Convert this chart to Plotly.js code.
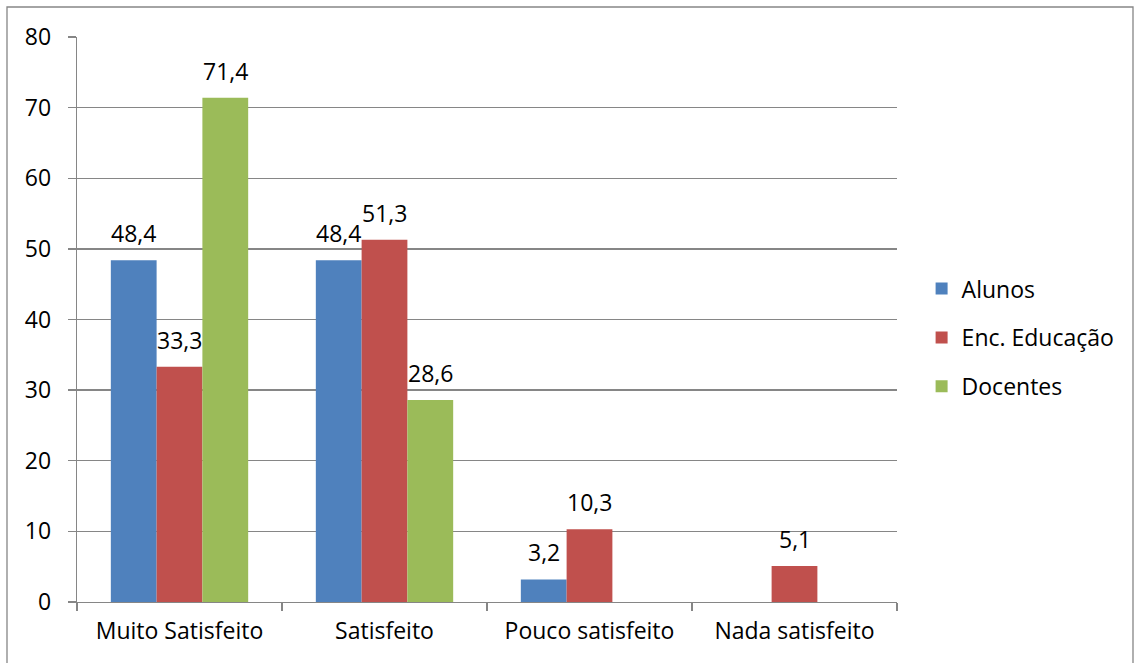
<!DOCTYPE html>
<html>
<head>
<meta charset="utf-8">
<script src="https://cdn.plot.ly/plotly-3.0.1.min.js"></script>
<style>html,body{margin:0;padding:0;background:#fff;}#chart{width:1134px;height:663px;}</style>
</head>
<body>
<div id="chart"></div>
<script>
const categories = ["Muito Satisfeito", "Satisfeito", "Pouco satisfeito", "Nada satisfeito"];
const alunos = [48.4, 48.4, 3.2, null];
const encEducacao = [33.3, 51.3, 10.3, 5.1];
const docentes = [71.4, 28.6, null, null];
const seriesNames = ["Alunos", "Enc. Educação", "Docentes"];
const colors = ["#4F81BD", "#C0504D", "#9BBB59"];
const yTicks = [0, 10, 20, 30, 40, 50, 60, 70, 80];

const FONT = "'Open Sans', Lato, sans-serif";
const FS = 23;
const grid = "#868686";
const allSeries = [alunos, encEducacao, docentes];

const plotW = 820, nCat = categories.length, bargap = 0.33;
const barW = plotW / nCat * (1 - bargap) / allSeries.length;

const traces = allSeries.map((vals, i) => ({
  type: "bar",
  name: seriesNames[i],
  x: categories,
  y: vals,
  legendgroup: "g" + i,
  marker: {color: colors[i], line: {width: 0}},
  hoverinfo: "x+y+name"
}));

const annotations = [];
allSeries.forEach((vals, i) => {
  vals.forEach((v, j) => {
    if (v == null) return;
    annotations.push({
      x: categories[j], y: v, xref: "x", yref: "y",
      xshift: (i - 1) * barW, yshift: 9,
      text: v.toFixed(1).replace(".", ","),
      showarrow: false, xanchor: "center", yanchor: "bottom",
      font: {family: FONT, size: FS, color: "#000"}
    });
  });
});

const layout = {
  width: 1134, height: 663,
  margin: {l: 77, r: 237, t: 37, b: 61},
  paper_bgcolor: "#fff", plot_bgcolor: "#fff",
  font: {family: FONT, size: FS, color: "#000"},
  separators: ",.",
  barmode: "group",
  bargap: bargap,
  bargroupgap: 0,
  showlegend: true,
  legend: {
    x: 1.03, y: 0.468, xanchor: "left", yanchor: "middle",
    font: {family: FONT, size: FS, color: "#000"},
    traceorder: "grouped", tracegroupgap: 16,
    itemwidth: 30
  },
  xaxis: {
    type: "category",
    showline: true, linecolor: grid, linewidth: 1.3,
    ticks: "outside", tickson: "boundaries", ticklen: 8, tickcolor: grid, tickwidth: 1.3,
    showgrid: false,
    tickfont: {family: FONT, size: FS, color: "#000"},
    ticklabelstandoff: 8
  },
  yaxis: {
    range: [0, 80],
    tickvals: yTicks,
    ticktext: yTicks.map(String),
    showline: true, linecolor: grid, linewidth: 1.3,
    ticks: "outside", ticklen: 8, tickcolor: grid, tickwidth: 1.3,
    showgrid: true, gridcolor: grid, gridwidth: 1.3,
    zeroline: false,
    tickfont: {family: FONT, size: FS, color: "#000"},
    ticklabelstandoff: 12
  },
  annotations: annotations,
  shapes: [{
    type: "rect", xref: "paper", yref: "paper",
    x0: -70/820, x1: 1056/820, y0: -80/565, y1: 1 + 30/565,
    line: {color: "#868686", width: 1.3}, fillcolor: "rgba(0,0,0,0)", layer: "below"
  }]
};

Plotly.newPlot("chart", traces, layout, {displayModeBar: false, staticPlot: true});
</script>
</body>
</html>
